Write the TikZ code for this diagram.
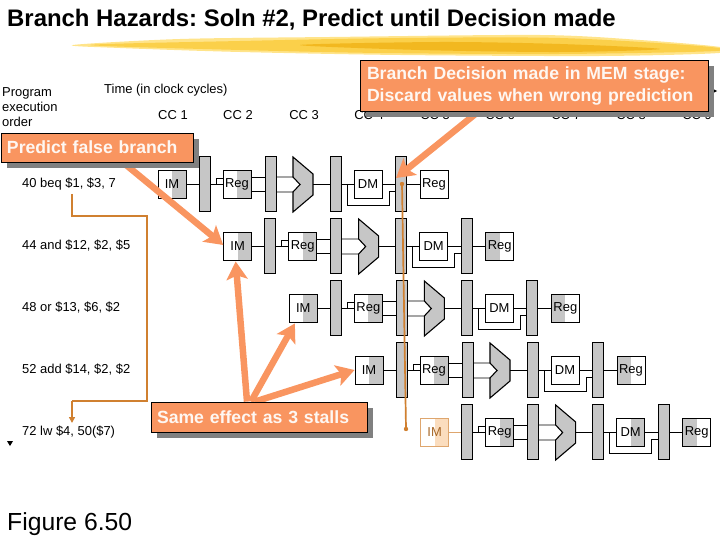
\documentclass[tikz,border=0pt]{standalone}
\usepackage{fontspec}
\setmainfont{Liberation Sans}
\usetikzlibrary{arrows.meta,shadows,positioning}
\frenchspacing

\definecolor{hintfill}{HTML}{F99560}
\definecolor{flushline}{HTML}{D08030}
\definecolor{flushfill}{HTML}{FBDDBE}
\definecolor{stagegray}{HTML}{C6C6C6}
\definecolor{brushlight}{HTML}{FFE48A}
\definecolor{brushmid}{HTML}{FBD04A}
\definecolor{brushdark}{HTML}{F2B820}

\pgfdeclarelayer{front}
\pgfsetlayers{main,front}

\tikzset{
  txt/.style={inner sep=0pt,font=\fontsize{13}{15}\selectfont},
  hint/.style={draw=black,line width=0.8bp,fill=hintfill,text=white!92!hintfill,inner sep=0pt,
    font=\fontsize{17.7}{22}\selectfont\bfseries,
    drop shadow={shadow xshift=6bp,shadow yshift=-6bp,fill=black!50,opacity=1}},
  hintarrow/.style={draw=hintfill,line width=6.5bp,-{Stealth[length=18bp,width=21bp,inset=4bp]}},
  unit/.style={draw=black,line width=0.9bp,minimum width=28bp,minimum height=28bp,inner sep=0pt,
    font=\fontsize{13}{15}\selectfont},
  blank/.style={unit},
  grayright/.style={unit,path picture={\fill[stagegray] (path picture bounding box.north)
    rectangle (path picture bounding box.south east);}},
  grayleft/.style={unit,path picture={\fill[stagegray] (path picture bounding box.south west)
    rectangle (path picture bounding box.north);}},
  flushed/.style={unit,draw=flushline!70,text=flushline!80!black,path picture={\fill[flushfill]
    (path picture bounding box.north) rectangle (path picture bounding box.south east);}},
  latch/.style={draw=black,line width=0.9bp,fill=stagegray,minimum width=11bp,minimum height=55bp,inner sep=0pt},
  alu/.style={draw=black,line width=1.1bp,fill=stagegray,line join=miter},
  wire/.style={line width=0.8bp,draw=black},
  blackwire/.style={wire},
  flushwire/.style={wire,draw=flushline!70},
  branchline/.style={draw=flushline,line width=1.7bp},
}

\begin{document}
\begin{tikzpicture}[x=1bp,y=-1bp]

\useasboundingbox (0,0) rectangle (720,540);

% Brush stroke under the title
\fill[brushlight] plot[smooth cycle] coordinates {(73,45) (180,39) (330,37) (540,35) (640,40) (720,47) (719,53) (600,56) (400,55) (240,52) (120,48)};
\fill[brushmid] plot[smooth cycle] coordinates {(90,45) (240,41) (400,38) (560,38) (700,46) (716,51) (560,54) (380,53) (240,50)};
\fill[brushdark] plot[smooth cycle] coordinates {(300,45) (440,42) (560,44) (660,49) (560,52) (420,50)};

% Title
\node[anchor=west,inner sep=0pt,font=\fontsize{24}{26}\selectfont\bfseries] (title) at (7,19.5) {Branch Hazards: Soln \#2, Predict until Decision made};

% Axis labels
\node[txt,anchor=north west,align=left,font=\fontsize{13}{15.5}\selectfont] (order) at (2,87) {Program\\execution\\order};
\node[txt,anchor=west] (time) at (104,90.5) {Time (in clock cycles)};
\fill (711,88) -- (717,91) -- (711,94) -- cycle;
\fill (7,441) -- (13,441) -- (10,446) -- cycle;

% Clock cycles
\node[txt] (cc1) at (173,115.5) {CC 1};
\node[txt] (cc2) at (238,115.5) {CC 2};
\node[txt] (cc3) at (304,115.5) {CC 3};
\node[txt] (cc4) at (369,115.5) {CC 4};
\node[txt] (cc5) at (435,115.5) {CC 5};
\node[txt] (cc6) at (500,115.5) {CC 6};
\node[txt] (cc7) at (566,115.5) {CC 7};
\node[txt] (cc8) at (631,115.5) {CC 8};
\node[txt] (cc9) at (697,115.5) {CC 9};

% Instructions
\node[txt,anchor=west] (beq) at (22,184) {40 beq \$1, \$3, 7};
\node[txt,anchor=west] (and) at (22,246) {44 and \$12, \$2, \$5};
\node[txt,anchor=west] (or) at (22,308) {48 or \$13, \$6, \$2};
\node[txt,anchor=west] (add) at (22,370) {52 add \$14, \$2, \$2};
\node[txt,anchor=west] (lw) at (22,432) {72 lw \$4, 50(\$7)};

% Jump from beq to lw
\coordinate (jumpa) at (72,194);
\coordinate (jumpb) at (147,216);
\coordinate (jumpc) at (72,401);
\coordinate (jumpd) at (72,423);
\draw[branchline] (jumpa) |- (jumpb) |- (jumpc);
\draw[branchline,-{Triangle[length=6bp,width=6bp]}] (jumpc) -- (jumpd);

% Pipelines
\foreach \r/\dx/\dy/\imbox/\imwire/\wbbox/\dmbox in {
  1/0/0/grayright/blackwire/blank/blank,
  2/65.67/62/grayright/blackwire/grayleft/blank,
  3/131.33/124/grayright/blackwire/grayleft/blank,
  4/197/186/grayright/blackwire/grayleft/blank,
  5/262.67/248/flushed/flushwire/grayleft/grayright}{
  \begin{scope}[shift={(\dx,\dy)}]
    \node[style=\imbox] (im\r) at (172,184) {IM};
    \node[latch] (latcha\r) at (204.5,184) {};
    \node[grayright] (reg\r) at (237,184) {Reg};
    \node[latch] (latchb\r) at (270.5,184) {};
    \node[latch] (latchc\r) at (335.5,184) {};
    \node[style=\dmbox] (dm\r) at (368,184) {DM};
    \node[latch] (latchd\r) at (401,184) {};
    \node[style=\wbbox] (wb\r) at (434,184) {Reg};
    \draw[alu] (293,157) -- (313,174) -- (313,195) -- (293,212) -- (293,192) -- (300,184.5) -- (293,177) -- cycle;
    \coordinate (alua\r) at (293,177);
    \coordinate (alub\r) at (293,192);
    \coordinate (aluout\r) at (313,184);
    \coordinate (wr\r) at (216,184);
    \coordinate (fwd\r) at (347,184);
    \coordinate (fwdb\r) at (389,205);
    \draw[style=\imwire] (im\r) -- (latcha\r);
    \draw[wire] (latcha\r) -- (reg\r);
    \draw[wire] (wr\r) |- ([yshift=6bp]reg\r.west);
    \draw[wire] ([yshift=7bp]reg\r.east) -- ([yshift=7bp]latchb\r.west);
    \draw[wire] ([yshift=-7bp]reg\r.east) -- ([yshift=-7bp]latchb\r.west);
    \draw[wire] ([yshift=7bp]latchb\r.east) -- (alua\r);
    \draw[wire] ([yshift=-8bp]latchb\r.east) -- (alub\r);
    \draw[wire] (aluout\r) -- (latchc\r);
    \draw[wire] (latchc\r) -- (dm\r);
    \draw[wire] (fwd\r) |- (fwdb\r) |- ([yshift=-7bp]latchd\r.west);
    \draw[wire] (dm\r) -- (latchd\r);
    \draw[wire] (latchd\r) -- (wb\r);
  \end{scope}
}

% Flush signal
\coordinate (flusha) at (402,184);
\coordinate (flushb) at (406,429);
\draw[branchline] (flusha) -- (flushb);
\fill[flushline] (flusha) circle (2.2);
\fill[flushline] (flushb) circle (2.2);

% Callouts
\begin{pgfonlayer}{front}
\node[hint,minimum width=192bp,minimum height=29bp,text width=180bp,align=left] (predict) at (97,147.5) {Predict false branch};
\node[hint,minimum width=348bp,minimum height=51bp,text width=334bp,align=left] (decision) at (534,86) {Branch Decision made in MEM stage:\\Discard values when wrong prediction};
\node[hint,minimum width=216bp,minimum height=30bp,text width=204bp,align=left] (same) at (259,417) {Same effect as 3 stalls};
\end{pgfonlayer}

% Arrows to the stages
\draw[hintarrow] ([xshift=26bp]predict.south) -- ([yshift=1bp]im2.west);
\draw[hintarrow] ([xshift=-12bp]same.north) -- ([xshift=-2bp,yshift=-1bp]im2.south);
\draw[hintarrow] ([xshift=-8bp]same.north) -- ([xshift=6bp,yshift=-1bp]im3.south west);
\draw[hintarrow] ([xshift=-4bp]same.north) -- (im4.west);
\draw[hintarrow] ([xshift=-56bp]decision.south) -- ([xshift=1bp,yshift=6bp]latchd1.west);

% Figure number
\node[anchor=west,inner sep=0pt,font=\fontsize{24.8}{27}\selectfont] (figure) at (7,524.5) {Figure 6.50};

\end{tikzpicture}
\end{document}
